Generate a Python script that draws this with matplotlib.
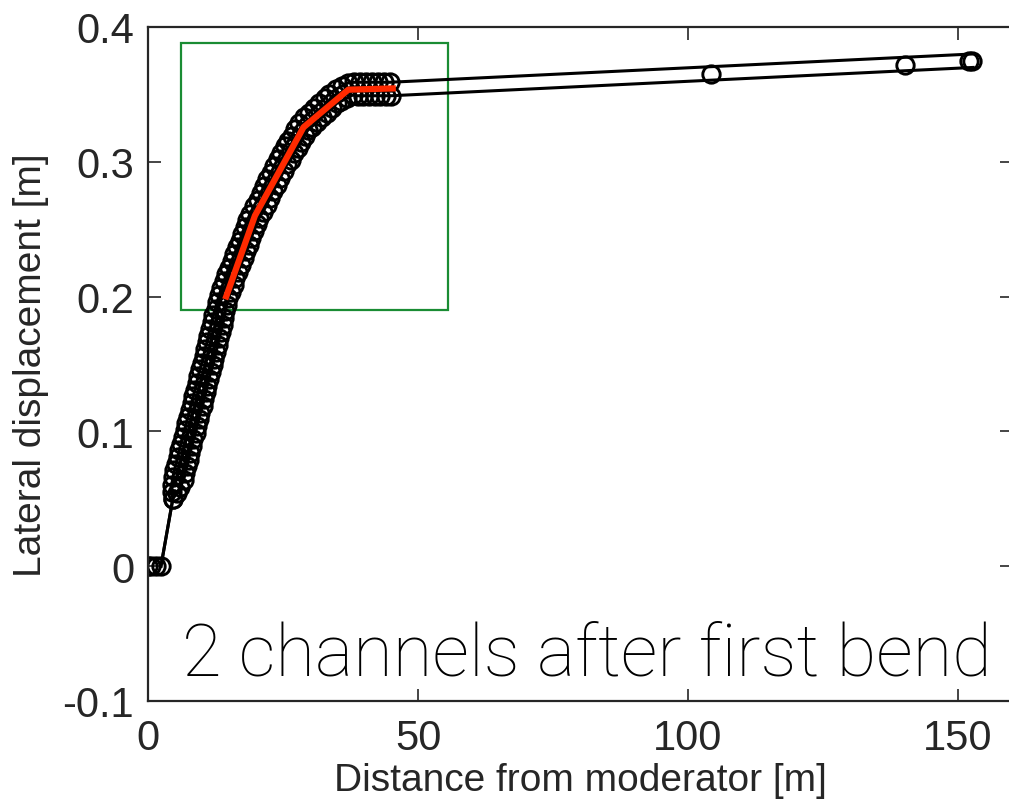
import matplotlib
matplotlib.use("Agg")
import matplotlib.pyplot as plt
from matplotlib.patches import Rectangle

# Reference points along the beamline (circles only, no connecting line)
center_x = [0.0, 0.5, 1.4, 2.4, 104.3, 140.2, 152.0, 152.6]
center_y = [0.0, 0.0, 0.0, 0.0, 0.365, 0.3718, 0.3748, 0.3748]

# Channel A (upper / left wall of the bend)
chan_a_x = [2.4,
            4.6, 4.4, 4.4, 4.6, 4.9, 5.2, 5.5, 5.8, 6.1, 6.4, 6.8, 7.1, 7.4, 7.7, 8.1,
            8.4, 8.7, 9.0, 9.3, 9.6, 10.0, 10.3, 10.6, 10.9, 11.2, 11.5, 11.8, 12.1,
            12.5, 12.8, 13.2,
            13.6, 14.1, 14.5, 15.0, 15.5, 16.0, 16.5, 17.0, 17.4, 17.9, 18.4, 18.9,
            19.6, 20.3, 20.9, 21.5, 22.1, 22.8, 23.4, 24.0,
            24.7, 25.3, 26.0, 26.6, 27.3, 27.9,
            28.9, 29.9, 30.8, 31.7, 32.7, 33.6,
            34.9, 36.0, 37.0,
            38.2, 39.3, 40.4, 41.5, 42.6, 43.7, 44.8,
            152.8]
chan_a_y = [0.0,
            0.050, 0.055, 0.060, 0.066, 0.071, 0.076, 0.081, 0.086, 0.091, 0.096, 0.101,
            0.106, 0.111, 0.116, 0.121, 0.126, 0.131, 0.136, 0.141, 0.146, 0.151, 0.156,
            0.161, 0.166, 0.171, 0.176, 0.181, 0.186, 0.191, 0.196, 0.201,
            0.2065, 0.2115, 0.2165, 0.2215, 0.2265, 0.2315, 0.2365, 0.2415, 0.2465,
            0.2515, 0.2565, 0.2615,
            0.267, 0.272, 0.277, 0.282, 0.287, 0.292, 0.297, 0.302,
            0.3065, 0.3115, 0.3155, 0.3195, 0.3245, 0.3285,
            0.333, 0.3365, 0.340, 0.3435, 0.347, 0.3505,
            0.354, 0.3565, 0.3585,
            0.359, 0.359, 0.359, 0.359, 0.359, 0.359, 0.359,
            0.380]

# Channel B (lower / right wall of the bend)
chan_b_x = [2.4,
            4.6, 5.3, 6.0, 6.6, 6.9, 7.2, 7.5, 7.8, 8.1, 8.4, 8.8, 9.1, 9.4, 9.7, 10.1,
            10.4, 10.7, 11.0, 11.3, 11.6, 12.0, 12.3, 12.6, 12.9, 13.2, 13.5, 13.8,
            14.1, 14.3, 14.6, 14.8,
            15.4, 15.9, 16.2, 16.7, 17.2, 17.7, 18.2, 18.7, 19.1, 19.6, 20.1, 20.6,
            21.3, 22.0, 22.6, 23.2, 23.8, 24.5, 25.1, 25.7,
            26.4, 27.0, 27.7, 28.3, 29.0, 29.6,
            30.3, 31.3, 32.2, 33.1, 34.1, 35.0,
            35.8, 36.9, 37.9,
            38.8, 39.9, 41.0, 42.0, 43.0, 44.0, 45.0,
            152.8]
chan_b_y = [0.0,
            0.050, 0.054, 0.059, 0.064, 0.069, 0.074, 0.079, 0.084, 0.089, 0.094, 0.099,
            0.104, 0.109, 0.114, 0.119, 0.124, 0.129, 0.134, 0.139, 0.144, 0.149, 0.154,
            0.159, 0.164, 0.169, 0.174, 0.179, 0.184, 0.189, 0.194, 0.199,
            0.2035, 0.2085, 0.2135, 0.2185, 0.2235, 0.2285, 0.2335, 0.2385, 0.2435,
            0.2485, 0.2535, 0.2585,
            0.263, 0.268, 0.273, 0.278, 0.283, 0.288, 0.293, 0.298,
            0.3015, 0.3065, 0.3105, 0.3145, 0.3195, 0.3235,
            0.326, 0.3295, 0.333, 0.3365, 0.340, 0.3435,
            0.345, 0.3475, 0.3495,
            0.349, 0.349, 0.349, 0.349, 0.349, 0.349, 0.349,
            0.370]

# Bend fitted by straight guide sections
bend_x = [14.3, 19.8, 28.8, 37.1, 45.9]
bend_y = [0.198, 0.260, 0.3256, 0.3535, 0.3545]

# Region of interest box: (x0, y0, x1, y1)
box = (6.1, 0.190, 55.6, 0.388)

x_ticks = [0, 50, 100, 150]
y_ticks = [-0.1, 0, 0.1, 0.2, 0.3, 0.4]
y_tick_labels = ["-0.1", "0", "0.1", "0.2", "0.3", "0.4"]

plt.rcParams["font.family"] = ["Liberation Sans", "DejaVu Sans"]
grey = "#262626"

fig = plt.figure(figsize=(10.09, 8.03), dpi=100)
ax = fig.add_axes([148 / 1009, 101 / 803, 864 / 1009, 674 / 803])

marker_style = dict(marker="o", markersize=12.5, markerfacecolor="none",
                    markeredgecolor="black", markeredgewidth=2.1)

for xs, ys in ((chan_a_x, chan_a_y), (chan_b_x, chan_b_y)):
    ax.plot(xs, ys, color="black", linewidth=2.2,
            markevery=slice(1, len(xs) - 1), **marker_style)

ax.plot(center_x, center_y, linestyle="none", **marker_style)

ax.plot(bend_x, bend_y, color="#ff2a00", linewidth=4.5, solid_capstyle="butt")

ax.add_patch(Rectangle((box[0], box[1]), box[2] - box[0], box[3] - box[1],
                       fill=False, edgecolor="#1a8c33", linewidth=1.6))

ax.text(0.977, 0.04, "2 channels after first bend", transform=ax.transAxes,
        ha="right", va="baseline", fontsize=52, color="black",
        family=["Roboto", "DejaVu Sans"], fontweight="light")

ax.set_xlim(0, 160)
ax.set_ylim(-0.1, 0.4)
ax.set_xticks(x_ticks)
ax.set_yticks(y_ticks)
ax.set_yticklabels(y_tick_labels)

ax.tick_params(direction="in", length=9, width=1.2, color=grey,
               labelcolor=grey, labelsize=30, top=True, right=True)
ax.tick_params(axis="y", pad=10)
ax.tick_params(axis="x", pad=12)
for s in ax.spines.values():
    s.set_color(grey)
    s.set_linewidth(1.6)

ax.set_xlabel("Distance from moderator [m]", fontsize=28, color=grey, labelpad=3)
ax.set_ylabel("Lateral displacement [m]", fontsize=28, color=grey, labelpad=10)

fig.savefig("out.png", dpi=100)
